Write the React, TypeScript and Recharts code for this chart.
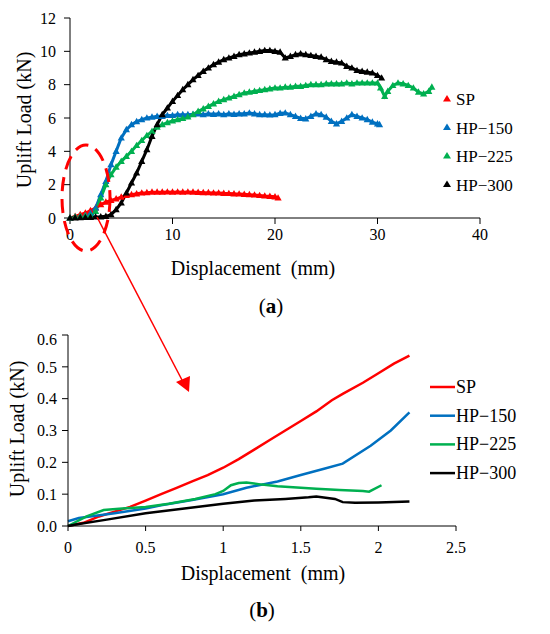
import { LineChart, Line, XAxis, YAxis } from "recharts";

const FONT = "Liberation Serif, DejaVu Serif, serif";

// ---- (a) full uplift curves: [displacement mm, load kN]
const spA = [
  [0, 0], [0.5, 0.1], [1, 0.2], [1.5, 0.3], [2, 0.45], [2.5, 0.6], [3, 0.8], [3.5, 0.95],
  [4, 1.05], [4.5, 1.15], [5, 1.25], [5.5, 1.35], [6, 1.4], [6.5, 1.45], [7, 1.5], [7.5, 1.52],
  [8, 1.55], [8.5, 1.55], [9, 1.55], [9.5, 1.56], [10, 1.55], [10.5, 1.56], [11, 1.55], [11.5, 1.56],
  [12, 1.55], [12.5, 1.54], [13, 1.52], [13.5, 1.52], [14, 1.5], [14.5, 1.5], [15, 1.48], [15.5, 1.47],
  [16, 1.45], [16.5, 1.44], [17, 1.42], [17.5, 1.4], [18, 1.38], [18.5, 1.35], [19, 1.32], [19.5, 1.3],
  [20, 1.27], [20.3, 1.2],
];
const hp150A = [
  [0, 0], [0.5, 0.05], [1, 0.1], [1.5, 0.15], [2, 0.28], [2.5, 0.6], [3, 1.4], [3.5, 2.2],
  [4, 3.2], [4.5, 4.0], [5, 4.8], [5.5, 5.3], [6, 5.6], [6.5, 5.78], [7, 5.9], [7.5, 6.0],
  [8, 6.05], [8.5, 6.1], [9, 6.1], [9.5, 6.15], [10, 6.15], [10.5, 6.2], [11, 6.2], [11.5, 6.2],
  [12, 6.22], [12.5, 6.25], [13, 6.2], [13.5, 6.25], [14, 6.22], [14.5, 6.25], [15, 6.2], [15.5, 6.25],
  [16, 6.22], [16.5, 6.25], [17, 6.25], [17.5, 6.3], [18, 6.25], [18.5, 6.2], [19, 6.2], [19.5, 6.18],
  [20, 6.2], [20.5, 6.28], [21, 6.3], [21.5, 6.2], [22, 6.1], [22.5, 5.98], [23, 5.95], [23.5, 6.1],
  [24, 6.25], [24.5, 6.2], [25, 6.05], [25.5, 5.8], [26, 5.65], [26.5, 5.8], [27, 6.0], [27.5, 6.2],
  [28, 6.1], [28.5, 6.0], [29, 5.9], [29.5, 5.75], [30, 5.65], [30.2, 5.6],
];
const hp225A = [
  [0, 0], [0.5, 0.06], [1, 0.1], [1.5, 0.12], [2, 0.13], [2.5, 0.4], [3, 1.2], [3.5, 2.0],
  [4, 2.6], [4.5, 3.05], [5, 3.4], [5.5, 3.7], [6, 4.0], [6.5, 4.35], [7, 4.65], [7.5, 4.95],
  [8, 5.2], [8.5, 5.45], [9, 5.6], [9.5, 5.72], [10, 5.82], [10.5, 5.9], [11, 5.97], [11.5, 6.07],
  [12, 6.2], [12.5, 6.4], [13, 6.55], [13.5, 6.7], [14, 6.85], [14.5, 7.0], [15, 7.1], [15.5, 7.2],
  [16, 7.3], [16.5, 7.4], [17, 7.5], [17.5, 7.55], [18, 7.6], [18.5, 7.65], [19, 7.7], [19.5, 7.75],
  [20, 7.8], [20.5, 7.8], [21, 7.85], [21.5, 7.85], [22, 7.9], [22.5, 7.9], [23, 7.95], [23.5, 8.0],
  [24, 8.0], [24.5, 8.0], [25, 8.05], [25.5, 8.05], [26, 8.05], [26.5, 8.05], [27, 8.1], [27.5, 8.05],
  [28, 8.1], [28.5, 8.1], [29, 8.1], [29.5, 8.1], [30, 8.1], [30.3, 7.8], [30.7, 7.3], [31, 7.6],
  [31.5, 7.95], [32, 8.1], [32.5, 8.05], [33, 7.95], [33.5, 7.8], [34, 7.55], [34.5, 7.45], [35, 7.6],
  [35.3, 7.85],
];
const hp300A = [
  [0, 0], [0.5, 0.01], [1, 0.02], [1.5, 0.03], [2, 0.04], [2.5, 0.06], [3, 0.07], [3.5, 0.1],
  [4, 0.2], [4.5, 0.5], [5, 0.9], [5.5, 1.5], [6, 2.1], [6.5, 2.7], [7, 3.4], [7.5, 4.1],
  [8, 4.9], [8.5, 5.6], [9, 6.2], [9.5, 6.6], [10, 7.0], [10.5, 7.35], [11, 7.7], [11.5, 8.0],
  [12, 8.3], [12.5, 8.55], [13, 8.8], [13.5, 9.0], [14, 9.2], [14.5, 9.35], [15, 9.5], [15.5, 9.6],
  [16, 9.7], [16.5, 9.8], [17, 9.85], [17.5, 9.9], [18, 9.95], [18.5, 10.0], [19, 10.05], [19.5, 10.05],
  [20, 10.0], [20.5, 9.95], [21, 9.6], [21.5, 9.7], [22, 9.8], [22.5, 9.85], [23, 9.8], [23.5, 9.75],
  [24, 9.7], [24.5, 9.65], [25, 9.5], [25.5, 9.4], [26, 9.35], [26.5, 9.3], [27, 9.1], [27.5, 9.0],
  [28, 8.85], [28.5, 8.8], [29, 8.75], [29.5, 8.7], [30, 8.55], [30.4, 8.4],
];

// ---- (b) initial part of the curves
const spB = [
  [0, 0], [0.1, 0.01], [0.2, 0.03], [0.3, 0.045], [0.4, 0.06], [0.5, 0.08], [0.6, 0.1], [0.7, 0.12],
  [0.8, 0.14], [0.9, 0.16], [1.0, 0.183], [1.1, 0.21], [1.2, 0.24], [1.3, 0.27], [1.4, 0.3], [1.5, 0.33],
  [1.6, 0.36], [1.7, 0.395], [1.77, 0.415], [1.9, 0.45], [2.0, 0.48], [2.1, 0.51], [2.2, 0.535],
];
const hp150B = [
  [0, 0.015], [0.07, 0.025], [0.3, 0.04], [0.5, 0.055], [0.6, 0.065], [0.8, 0.082], [1.0, 0.1], [1.15, 0.12],
  [1.35, 0.14], [1.5, 0.16], [1.65, 0.18], [1.77, 0.196], [1.95, 0.252], [2.08, 0.3], [2.2, 0.357],
];
const hp225B = [
  [0, 0], [0.12, 0.03], [0.23, 0.05], [0.35, 0.055], [0.5, 0.06], [0.65, 0.07], [0.82, 0.085], [0.95, 0.1],
  [1.0, 0.11], [1.05, 0.128], [1.1, 0.135], [1.15, 0.137], [1.25, 0.13], [1.35, 0.125], [1.5, 0.12], [1.6, 0.117],
  [1.75, 0.113], [1.9, 0.11], [1.94, 0.108], [2.02, 0.128],
];
const hp300B = [
  [0, 0], [0.05, 0.005], [0.25, 0.02], [0.5, 0.04], [0.75, 0.055], [1.0, 0.07], [1.2, 0.08], [1.4, 0.085],
  [1.55, 0.09], [1.6, 0.093], [1.72, 0.085], [1.77, 0.075], [1.85, 0.073], [2.0, 0.074], [2.2, 0.077],
];

const seriesNames = ["SP", "HP\u2212150", "HP\u2212225", "HP\u2212300"];
const seriesColors = ["#FF0000", "#0070C0", "#00B050", "#000000"];
const ticksA_x = [0, 10, 20, 30, 40];
const ticksA_y = [0, 2, 4, 6, 8, 10, 12];
const ticksB_x = [0, 0.5, 1, 1.5, 2, 2.5];
const ticksB_y = [0, 0.1, 0.2, 0.3, 0.4, 0.5, 0.6];

const toPts = (arr: number[][]) => arr.map(([x, y]) => ({ x, y }));
const seriesA = [spA, hp150A, hp225A, hp300A].map(toPts);
const seriesB = [spB, hp150B, hp225B, hp300B].map(toPts);

const tri = (color: string) => (p: any) => (
  <path
    key={`t-${p.index}`}
    d={`M${p.cx},${p.cy - 3.8}L${p.cx + 3.6},${p.cy + 2.6}L${p.cx - 3.6},${p.cy + 2.6}Z`}
    fill={color}
  />
);

const tickStyle = { fontSize: 16, fill: "#000", fontFamily: FONT };

export default function App() {
  return (
    <div
      style={{
        position: "absolute",
        left: 0,
        top: 0,
        width: 550,
        height: 634,
        background: "#fff",
        fontFamily: FONT,
      }}
    >
      <div style={{ position: "absolute", left: 0, top: 0 }}>
        <LineChart width={550} height={290} margin={{ top: 18, right: 70, bottom: 42, left: 30 }}>
          <XAxis
            type="number"
            dataKey="x"
            domain={[0, 40]}
            ticks={ticksA_x}
            height={30}
            tickSize={6}
            tickMargin={5}
            stroke="#000"
            tick={tickStyle}
          />
          <YAxis
            type="number"
            dataKey="y"
            domain={[0, 12]}
            ticks={ticksA_y}
            width={40}
            tickSize={6}
            tickMargin={8}
            stroke="#000"
            tick={tickStyle}
          />
          {seriesA.map((d, i) => (
            <Line
              key={seriesNames[i]}
              data={d}
              dataKey="y"
              type="linear"
              stroke={seriesColors[i]}
              strokeWidth={3}
              dot={tri(seriesColors[i])}
              isAnimationActive={false}
            />
          ))}
        </LineChart>
      </div>

      <div style={{ position: "absolute", left: 0, top: 330 }}>
        <LineChart width={550} height={270} margin={{ top: 5, right: 94, bottom: 44, left: 28 }}>
          <XAxis
            type="number"
            dataKey="x"
            domain={[0, 2.5]}
            ticks={ticksB_x}
            height={30}
            tickSize={5}
            tickMargin={11}
            stroke="#000"
            tick={tickStyle}
            tickFormatter={(v: number) => String(v)}
          />
          <YAxis
            type="number"
            dataKey="y"
            domain={[0, 0.6]}
            ticks={ticksB_y}
            width={40}
            tickSize={6}
            tickMargin={5}
            stroke="#000"
            tick={tickStyle}
            tickFormatter={(v: number) => v.toFixed(1)}
          />
          {seriesB.map((d, i) => (
            <Line
              key={seriesNames[i]}
              data={d}
              dataKey="y"
              type="linear"
              stroke={seriesColors[i]}
              strokeWidth={2.5}
              dot={false}
              isAnimationActive={false}
            />
          ))}
        </LineChart>
      </div>

      {/* titles, legends and the zoom annotation */}
      <svg
        width={550}
        height={634}
        style={{ position: "absolute", left: 0, top: 0, pointerEvents: "none", fontFamily: FONT }}
      >
        <text x={24} y={120} fontSize={20} textAnchor="middle" transform="rotate(-90 24 120)" dominantBaseline="central">
          Uplift Load (kN)
        </text>
        <text x={253} y={275} fontSize={20} textAnchor="middle" xmlSpace="preserve">
          Displacement  (mm)
        </text>
        <text x={271} y={313} fontSize={21} textAnchor="middle">
          (<tspan fontWeight="bold">a</tspan>)
        </text>

        {seriesNames.map((n, i) => (
          <g key={n}>
            <path
              d={`M447,${95 + i * 28.5}l4,6.5h-8z`}
              fill={seriesColors[i]}
            />
            <text x={456} y={105 + i * 28.5} fontSize={17}>
              {n}
            </text>
          </g>
        ))}

        <text x={17} y={429} fontSize={20} textAnchor="middle" transform="rotate(-90 17 429)" dominantBaseline="central">
          Uplift Load (kN)
        </text>
        <text x={263} y={580} fontSize={20} textAnchor="middle" xmlSpace="preserve">
          Displacement  (mm)
        </text>
        <text x={262} y={617} fontSize={21} textAnchor="middle">
          (<tspan fontWeight="bold">b</tspan>)
        </text>

        {seriesNames.map((n, i) => (
          <g key={n}>
            <line x1={430} x2={455} y1={387 + i * 28.7} y2={387 + i * 28.7} stroke={seriesColors[i]} strokeWidth={2.5} />
            <text x={456} y={393 + i * 28.7} fontSize={18}>
              {n}
            </text>
          </g>
        ))}

        <ellipse
          cx={86}
          cy={198}
          rx={24}
          ry={53}
          fill="none"
          stroke="#FF0000"
          strokeWidth={3}
          strokeDasharray="14 8"
        />
        <line x1={97} y1={217} x2={182} y2={380} stroke="#FF0000" strokeWidth={1.5} />
        <path d="M189,392L176,382L190,376Z" fill="#FF0000" />
      </svg>
    </div>
  );
}
